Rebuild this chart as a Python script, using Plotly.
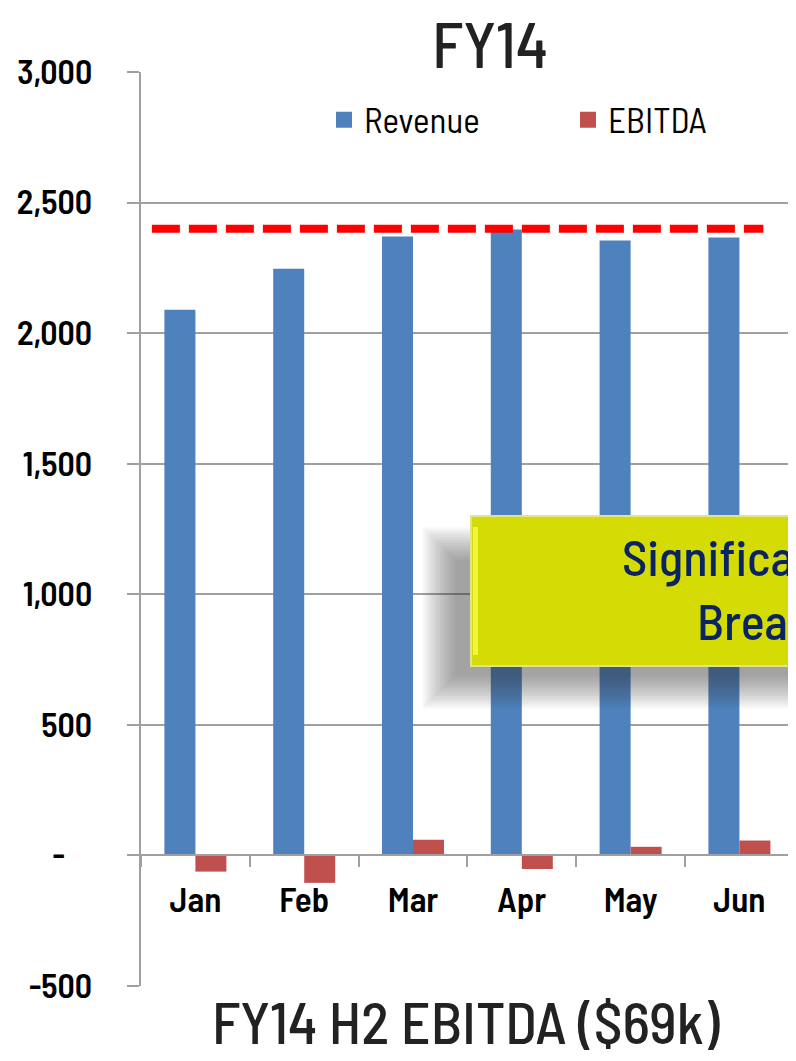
import plotly.graph_objects as go

# ---- data ----
months = ["Jan", "Feb", "Mar", "Apr", "May", "Jun"]
revenue = [2090, 2247, 2370, 2397, 2355, 2366]
ebitda = [-62, -105, 60, -52, 33, 57]
target_line = 2400
y_tickvals = [-500, 0, 500, 1000, 1500, 2000, 2500, 3000]
y_ticktext = ["-500", "-\u00a0\u00a0\u00a0\u00a0", "500", "1,000", "1,500", "2,000", "2,500", "3,000"]
title_text = "FY14"
bottom_text = "FY14 H2 EBITDA ($69k)"
callout_line1 = "Significant Improvement"
callout_line2 = "Break-even"

# ---- layout constants (page has an 8px body margin) ----
OFF = 8
W, H = 796 - OFF, 1061 - OFF
ML, MR, MT, MB = 141 - OFF, 0, 72 - OFF, 75
PW, PH = W - ML - MR, H - MT - MB
FONT = "Barlow Semi Condensed, Barlow Condensed, Roboto, sans-serif"
BLUE, RED = "#4F81BD", "#C0504D"
GRID = "#A0A0A0"


def px_x(px):
    return (px - OFF - ML) / PW


def px_y(py):
    return (H - MB - (py - OFF)) / PH


fig = go.Figure()
fig.add_trace(go.Bar(name="Revenue", x=months, y=revenue, marker_color=BLUE,
                     marker_line_width=0, showlegend=False))
fig.add_trace(go.Bar(name="EBITDA", x=months, y=ebitda, marker_color=RED,
                     marker_line_width=0, showlegend=False))
# legend proxies with larger square symbols, one legend each
for name, col, lg in [("Revenue", BLUE, "legend"), ("EBITDA", RED, "legend2")]:
    fig.add_trace(go.Scatter(name=name, x=[None], y=[None], mode="markers",
                             legend=lg,
                             marker=dict(symbol="square", size=20, color=col)))

shapes = []
# dashed target line
shapes.append(dict(type="line", xref="x", yref="y", x0=-0.4, x1=5.22,
                   y0=target_line, y1=target_line,
                   line=dict(color="#FF0000", width=8, dash="28px,9px")))
# soft shadow of the callout (layered translucent rectangles)
for i in range(14):
    g = i * 2.5
    shapes.append(dict(type="rect", xref="paper", yref="paper",
                       x0=px_x(455 - g), x1=1.2,
                       y0=px_y(676 + g), y1=px_y(560 - g),
                       fillcolor="rgba(50,50,50,0.04)", line_width=0, layer="above"))
# callout box
shapes.append(dict(type="rect", xref="paper", yref="paper",
                   x0=px_x(471), x1=1.2, y0=px_y(666), y1=px_y(516),
                   fillcolor="#D4DB05", line=dict(color="#E0E48A", width=2), layer="above"))
# bevel highlight on left edge
shapes.append(dict(type="rect", xref="paper", yref="paper",
                   x0=px_x(473), x1=px_x(478), y0=px_y(655), y1=px_y(527),
                   fillcolor="#F4F43A", line_width=0, layer="above"))

annotations = [
    dict(text=title_text, xref="paper", yref="paper", x=px_x(490), y=px_y(42),
         xanchor="center", yanchor="middle", showarrow=False,
         font=dict(family=FONT, size=64, color="#222222", weight=500)),
    dict(text=bottom_text, xref="paper", yref="paper", x=px_x(466), y=px_y(1021),
         xanchor="center", yanchor="middle", showarrow=False,
         font=dict(family=FONT, size=58, color="#222222", weight=500)),
    dict(text=callout_line1, xref="paper", yref="paper", x=px_x(620), y=px_y(556),
         xanchor="left", yanchor="middle", showarrow=False,
         font=dict(family=FONT, size=50, color="#0A2361", weight=500)),
    dict(text=callout_line2, xref="paper", yref="paper", x=px_x(695), y=px_y(620),
         xanchor="left", yanchor="middle", showarrow=False,
         font=dict(family=FONT, size=50, color="#0A2361", weight=500)),
]

legend_common = dict(orientation="h", yanchor="middle", xanchor="left",
                     bgcolor="rgba(0,0,0,0)", borderwidth=0,
                     font=dict(size=35, family=FONT, color="black"))

ymin, ymax = y_tickvals[0], y_tickvals[-1]
fig.update_layout(
    width=W, height=H,
    margin=dict(l=ML, r=MR, t=MT, b=MB, pad=0, autoexpand=False),
    paper_bgcolor="white", plot_bgcolor="white",
    barmode="group", bargap=0.43, bargroupgap=0,
    font=dict(family=FONT, color="black"),
    showlegend=True,
    legend=dict(x=px_x(324), y=px_y(120), **legend_common),
    legend2=dict(x=px_x(568), y=px_y(120), **legend_common),
    xaxis=dict(type="category", range=[-0.5, 5.52], anchor="free",
               position=(0 - ymin) / (ymax - ymin), automargin=False,
               showline=True, linecolor=GRID, linewidth=2,
               ticks="outside", tickson="boundaries", ticklen=11, tickcolor=GRID,
               tickwidth=2, showgrid=False, ticklabelstandoff=14,
               tickfont=dict(size=35, family=FONT, weight=600)),
    yaxis=dict(range=[ymin, ymax], tickvals=y_tickvals, ticktext=y_ticktext,
               automargin=False,
               showgrid=True, gridcolor=GRID, gridwidth=2, zeroline=False,
               showline=True, linecolor=GRID, linewidth=2,
               ticks="outside", ticklen=12, tickcolor=GRID, tickwidth=2,
               ticklabelstandoff=28,
               tickfont=dict(size=34, family=FONT, weight=600)),
    shapes=shapes,
    annotations=annotations,
)

fig.write_html("out.html")
